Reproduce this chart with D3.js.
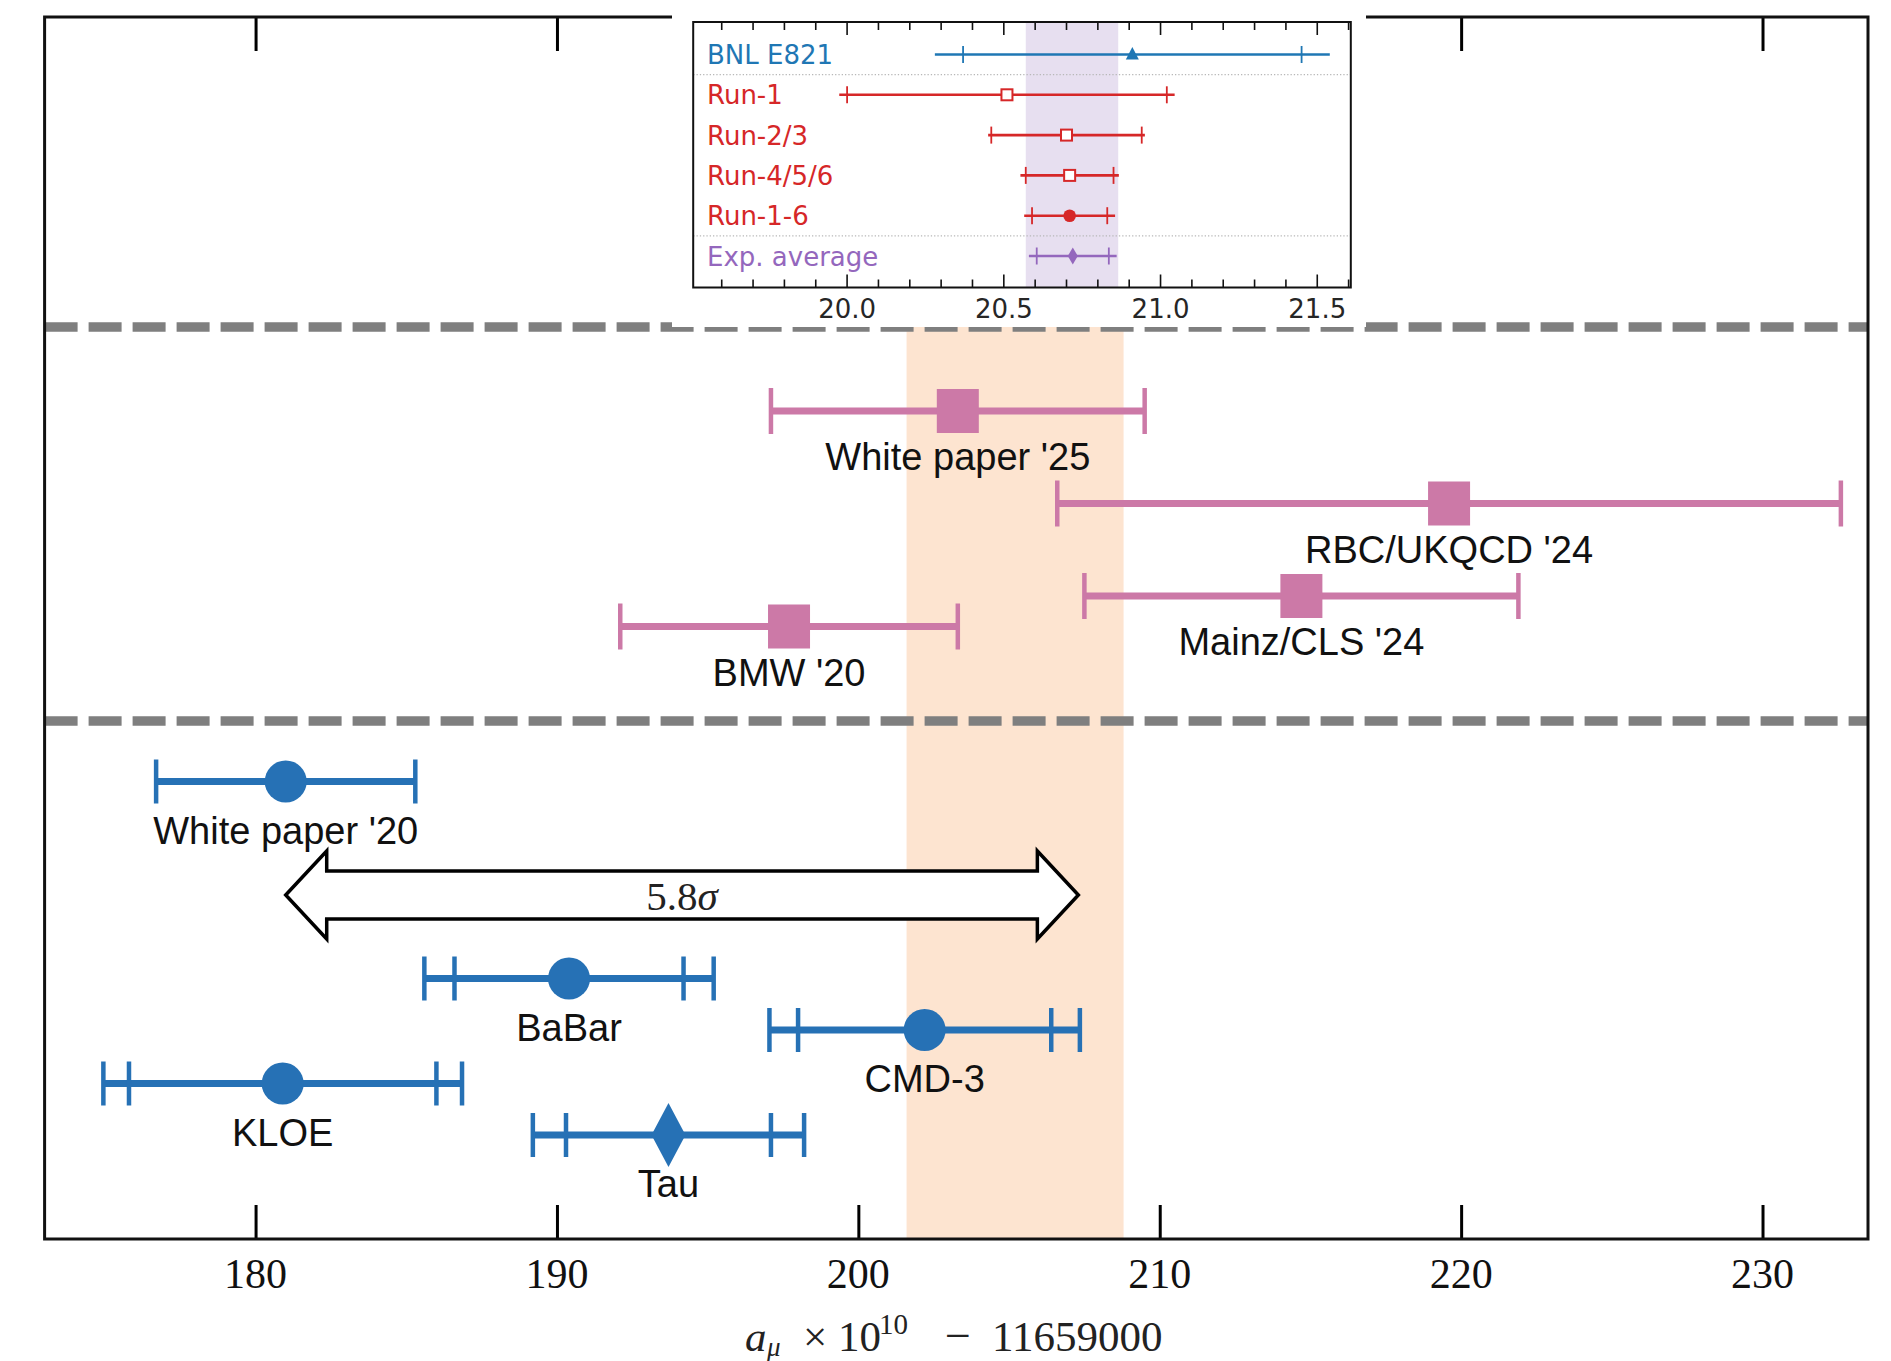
<!DOCTYPE html>
<html><head><meta charset="utf-8">
<script src="https://cdn.jsdelivr.net/npm/d3@7"></script>
<style>body{margin:0;background:#fff}svg{display:block}</style>
</head><body>
<svg id="c" width="1891" height="1361"></svg>
<script>
// ---------------- data ----------------
const xTicks = [180, 190, 200, 210, 220, 230];
const theoryBand = [201.6, 208.8];

const lowerNames = ["White paper '20", "BaBar", "CMD-3", "KLOE", "Tau"];
const lowerValues = [181.0, 190.4, 202.2, 180.9, 193.7];
const lowerInnerErr = [null, 3.8, 4.2, 5.1, 3.4];
const lowerOuterErr = [4.3, 4.8, 5.15, 5.95, 4.5];
const lowerMarkers = ["circle", "circle", "circle", "circle", "diamond"];
const lowerRows = [9.15, 5.21, 4.18, 3.11, 2.08];

const latticeNames = ["White paper '25", "RBC/UKQCD '24", "Mainz/CLS '24", "BMW '20"];
const latticeValues = [203.3, 219.6, 214.7, 197.7];
const latticeErr = [6.2, 13.0, 7.2, 5.6];
const latticeRows = [16.56, 14.71, 12.86, 12.25];

const separatorRows = [18.24, 10.36];
const tensionEnds = [181.0, 207.3];
const tensionRow = 6.88;

const insetNames = ["BNL E821", "Run-1", "Run-2/3", "Run-4/5/6", "Run-1-6", "Exp. average"];
const insetValues = [20.91, 20.51, 20.70, 20.71, 20.71, 20.72];
const insetStat = [0.54, 0.51, 0.24, 0.14, 0.12, 0.115];
const insetTotal = [0.63, 0.535, 0.25, 0.157, 0.145, 0.14];
const insetMarkers = ["triangle", "opensquare", "opensquare", "opensquare", "circle", "diamond"];
const insetGroups = ["bnl", "fnal", "fnal", "fnal", "fnal", "avg"];
const insetTicks = [20.0, 20.5, 21.0, 21.5];
const insetBand = [20.57, 20.865];

// ---------------- drawing ----------------
const svg = d3.select("#c");
const L = 44.6, R = 1868, T = 17, B = 1239;
const x = d3.scaleLinear().domain([173, 233.5]).range([L, R]);
const y = d3.scaleLinear().domain([0, 24.44]).range([B, T]);

const blue = "#2671b5", pink = "#cc79a7";
const sansFont = "'Liberation Sans', Arial, Helvetica, sans-serif";
const serifFont = "'Liberation Serif', 'Times New Roman', serif";

// orange band
svg.append("rect")
  .attr("x", x(theoryBand[0])).attr("y", T)
  .attr("width", x(theoryBand[1]) - x(theoryBand[0])).attr("height", B - T)
  .attr("fill", "#fde4d0");

// separators
svg.selectAll("line.sep").data(separatorRows).join("line")
  .attr("class", "sep")
  .attr("x1", L).attr("x2", R)
  .attr("y1", d => y(d)).attr("y2", d => y(d))
  .attr("stroke", "#7f7f7f").attr("stroke-width", 9.5)
  .attr("stroke-dasharray", "33 11");

// axes (bottom & top, inward ticks)
const axB = d3.axisBottom(x).tickValues(xTicks).tickSize(-34).tickPadding(0).tickFormat("");
const gB = svg.append("g").attr("transform", `translate(0,${B})`).call(axB);
const axT = d3.axisTop(x).tickValues(xTicks).tickSize(-34).tickFormat("");
const gT = svg.append("g").attr("transform", `translate(0,${T})`).call(axT);
[gB, gT].forEach(g => {
  g.select(".domain").remove();
  g.selectAll(".tick line").attr("stroke", "#000").attr("stroke-width", 3);
});
// tick labels
svg.selectAll("text.xt").data(xTicks).join("text")
  .attr("class", "xt")
  .attr("x", d => x(d)).attr("y", 1288)
  .attr("text-anchor", "middle")
  .attr("font-family", serifFont).attr("font-size", 42)
  .attr("fill", "#111")
  .text(d => d);

// frame
svg.append("rect").attr("x", L).attr("y", T).attr("width", R - L).attr("height", B - T)
  .attr("fill", "none").attr("stroke", "#111").attr("stroke-width", 3);

// axis label
const al = svg.append("text").attr("y", 1351)
  .attr("font-family", serifFont).attr("font-size", 43).attr("fill", "#222");
al.append("tspan").attr("x", 745).attr("font-style", "italic").text("a");
al.append("tspan").attr("x", 767).attr("font-style", "italic").attr("font-size", 27).attr("dy", 5).text("μ");
al.append("tspan").attr("x", 803).attr("dy", -5).text("×");
al.append("tspan").attr("x", 838).text("10");
al.append("tspan").attr("x", 879).attr("font-size", 29).attr("dy", -17).text("10");
al.append("tspan").attr("x", 945).attr("dy", 17).attr("font-size", 46).text("−");
al.append("tspan").attr("x", 992).text("11659000");

// ---- lattice (pink) ----
const lat = latticeNames.map((n, i) => ({n, v: latticeValues[i], e: latticeErr[i], r: latticeRows[i]}));
const gl = svg.append("g");
lat.forEach(d => {
  const yy = y(d.r);
  gl.append("line").attr("x1", x(d.v - d.e)).attr("x2", x(d.v + d.e)).attr("y1", yy).attr("y2", yy)
    .attr("stroke", pink).attr("stroke-width", 7);
  [d.v - d.e, d.v + d.e].forEach(c => {
    gl.append("line").attr("x1", x(c)).attr("x2", x(c)).attr("y1", yy - 23).attr("y2", yy + 23)
      .attr("stroke", pink).attr("stroke-width", 4.5);
  });
  gl.append("rect").attr("x", x(d.v) - 21).attr("y", yy - 22).attr("width", 42).attr("height", 44).attr("fill", pink);
  gl.append("text").attr("x", x(d.v)).attr("y", yy + 59).attr("text-anchor", "middle")
    .attr("font-family", sansFont).attr("font-size", 38).attr("fill", "#111").text(d.n);
});

// ---- data-driven (blue) ----
const low = lowerNames.map((n, i) => ({n, v: lowerValues[i], ie: lowerInnerErr[i], oe: lowerOuterErr[i], m: lowerMarkers[i], r: lowerRows[i]}));
const gd = svg.append("g");
low.forEach(d => {
  const yy = y(d.r);
  gd.append("line").attr("x1", x(d.v - d.oe)).attr("x2", x(d.v + d.oe)).attr("y1", yy).attr("y2", yy)
    .attr("stroke", blue).attr("stroke-width", 7);
  const caps = [d.v - d.oe, d.v + d.oe];
  if (d.ie !== null) caps.push(d.v - d.ie, d.v + d.ie);
  caps.forEach(c => {
    gd.append("line").attr("x1", x(c)).attr("x2", x(c)).attr("y1", yy - 22).attr("y2", yy + 22)
      .attr("stroke", blue).attr("stroke-width", 4.5);
  });
  if (d.m === "circle") {
    gd.append("circle").attr("cx", x(d.v)).attr("cy", yy).attr("r", 21).attr("fill", blue);
  } else {
    const cx = x(d.v);
    gd.append("path").attr("d", `M${cx},${yy - 32} L${cx + 17},${yy} L${cx},${yy + 32} L${cx - 17},${yy} Z`).attr("fill", blue);
  }
  gd.append("text").attr("x", x(d.v)).attr("y", yy + 62).attr("text-anchor", "middle")
    .attr("font-family", sansFont).attr("font-size", 38).attr("fill", "#111").text(d.n);
});

// ---- tension arrow ----
{
  const x1 = x(tensionEnds[0]), x2 = x(tensionEnds[1]), yy = y(tensionRow);
  const hl = 41, bh = 24, hh = 44;
  const p = `M${x1},${yy} L${x1 + hl},${yy - hh} L${x1 + hl},${yy - bh} L${x2 - hl},${yy - bh} L${x2 - hl},${yy - hh} L${x2},${yy} L${x2 - hl},${yy + hh} L${x2 - hl},${yy + bh} L${x1 + hl},${yy + bh} L${x1 + hl},${yy + hh} Z`;
  svg.append("path").attr("d", p).attr("fill", "#fff").attr("stroke", "#000").attr("stroke-width", 3.5).attr("stroke-linejoin", "miter");
  const t = svg.append("text").attr("x", (x1 + x2) / 2).attr("y", yy + 15).attr("text-anchor", "middle")
    .attr("font-family", serifFont).attr("font-size", 41).attr("fill", "#222");
  t.append("tspan").text("5.8");
  t.append("tspan").attr("font-style", "italic").text("σ");
}

// ---------------- inset ----------------
svg.append("rect").attr("x", 672).attr("y", 15).attr("width", 694).attr("height", 312).attr("fill", "#fff");
const iL = 693.2, iR = 1350.8, iT = 22, iB = 287.5;
const xi = d3.scaleLinear().domain([19.509, 21.607]).range([iL, iR]);
const yi = d3.scalePoint().domain(insetNames).range([54.5, 256]);
const colorOf = {bnl: "#1f77b4", fnal: "#d62728", avg: "#9467bd"};
const gi = svg.append("g");

gi.append("rect").attr("x", xi(insetBand[0])).attr("y", iT)
  .attr("width", xi(insetBand[1]) - xi(insetBand[0])).attr("height", iB - iT).attr("fill", "#e7dff0");

// dotted separators
const step = yi.step();
[yi(insetNames[0]) + step / 2, yi(insetNames[4]) + step / 2].forEach(yy => {
  gi.append("line").attr("x1", iL).attr("x2", iR).attr("y1", yy).attr("y2", yy)
    .attr("stroke", "#b8b8b8").attr("stroke-width", 1.3).attr("stroke-dasharray", "1.3 2");
});

const minorTicks = d3.range(196, 217).map(v => v / 10).filter(v => !insetTicks.some(t => Math.abs(t - v) < 1e-9));
const addTicks = (vals, len) => {
  vals.forEach(v => {
    gi.append("line").attr("x1", xi(v)).attr("x2", xi(v)).attr("y1", iT).attr("y2", iT + len).attr("stroke", "#111").attr("stroke-width", 1.6);
    gi.append("line").attr("x1", xi(v)).attr("x2", xi(v)).attr("y1", iB).attr("y2", iB - len).attr("stroke", "#111").attr("stroke-width", 1.6);
  });
};
addTicks(insetTicks, 13);
addTicks(minorTicks, 8);
gi.selectAll("text.it").data(insetTicks).join("text").attr("class", "it")
  .attr("x", d => xi(d)).attr("y", 318).attr("text-anchor", "middle")
  .attr("font-family", "'DejaVu Sans', sans-serif").attr("font-size", 26).attr("fill", "#262626")
  .text(d => d.toFixed(1));

insetNames.forEach((n, i) => {
  const c = colorOf[insetGroups[i]], yy = yi(n), v = insetValues[i];
  gi.append("line").attr("x1", xi(v - insetTotal[i])).attr("x2", xi(v + insetTotal[i])).attr("y1", yy).attr("y2", yy)
    .attr("stroke", c).attr("stroke-width", 2.6);
  [v - insetStat[i], v + insetStat[i]].forEach(s => {
    gi.append("line").attr("x1", xi(s)).attr("x2", xi(s)).attr("y1", yy - 8.5).attr("y2", yy + 8.5)
      .attr("stroke", c).attr("stroke-width", 1.8);
  });
  const cx = xi(v), m = insetMarkers[i];
  if (m === "triangle") {
    gi.append("path").attr("d", `M${cx},${yy - 7.5} L${cx + 6.5},${yy + 5} L${cx - 6.5},${yy + 5} Z`).attr("fill", c);
  } else if (m === "opensquare") {
    gi.append("rect").attr("x", cx - 5.5).attr("y", yy - 5.5).attr("width", 11).attr("height", 11)
      .attr("fill", "#fff").attr("stroke", c).attr("stroke-width", 2);
  } else if (m === "circle") {
    gi.append("circle").attr("cx", cx).attr("cy", yy).attr("r", 6.3).attr("fill", c);
  } else {
    gi.append("path").attr("d", `M${cx},${yy - 8.5} L${cx + 5},${yy} L${cx},${yy + 8.5} L${cx - 5},${yy} Z`).attr("fill", c);
  }
  gi.append("text").attr("x", 707).attr("y", yy + 9.5)
    .attr("font-family", "'DejaVu Sans', sans-serif").attr("font-size", 26).attr("fill", c).text(n);
});

gi.append("rect").attr("x", iL).attr("y", iT).attr("width", iR - iL).attr("height", iB - iT)
  .attr("fill", "none").attr("stroke", "#111").attr("stroke-width", 2);
</script>
</body></html>
